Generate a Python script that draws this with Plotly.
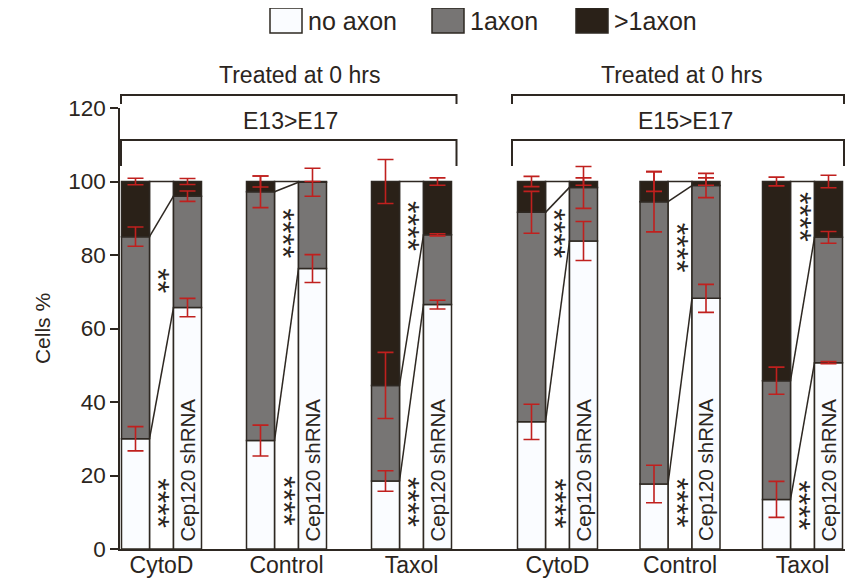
import plotly.graph_objects as go

# ---------------- data ----------------
groups = ["CytoD", "Control", "Taxol", "CytoD", "Control", "Taxol"]
sections = ["E13>E17", "E15>E17"]
section_title = "Treated at 0 hrs"
categories = ["no axon", "1axon", ">1axon"]

# control shRNA (left bars), % cells
ctrl_no = [30.0, 29.5, 18.5, 34.6, 17.7, 13.5]
ctrl_one = [55.0, 67.7, 26.0, 57.0, 76.8, 32.3]
ctrl_multi = [15.0, 2.8, 55.5, 8.4, 5.5, 54.2]
# Cep120 shRNA (right bars)
cep_no = [65.7, 76.3, 66.5, 83.8, 68.2, 50.7]
cep_one = [30.3, 23.5, 19.0, 14.6, 30.7, 34.1]
cep_multi = [4.0, 0.2, 14.5, 1.6, 1.1, 15.2]

# error (+/-)
ctrl_no_err = [3.3, 4.2, 2.8, 4.8, 5.1, 4.9]
ctrl_one_err = [2.6, 4.3, 9.0, 5.7, 8.2, 3.7]
ctrl_multi_err = [0.9, 1.5, 6.0, 1.4, 2.7, 1.2]
cep_no_err = [2.5, 3.8, 1.2, 5.3, 3.8, 0.3]
cep_one_err = [1.4, 3.8, 0.3, 5.7, 3.3, 1.6]
cep_multi_err = [0.8, 0.0, 1.0, 1.0, 1.0, 1.7]

# significance marks
sig_upper = ["**", "****", "****", "****", "****", "****"]
sig_lower = ["****", "****", "****", "****", "****", "****"]
sig_upper_y = [73, 86, 88, 86, 82, 90.5]
sig_lower_y = [12.6, 13.2, 12.9, 12.5, 12.6, 12.0]
bar_label = "Cep120 shRNA"

y_ticks = [0, 20, 40, 60, 80, 100, 120]

# ---------------- style / layout ----------------
PAGE_OFF = 8  # default body margin of the html page
W, H = 853 - PAGE_OFF, 579 - PAGE_OFF
ML, MR, MT, MB = 120 - PAGE_OFF, 0, 108 - PAGE_OFF, 30
XMAX = W - ML - MR
FONT = "Liberation Sans, Arial, Helvetica, sans-serif"
TXT = "#2b2520"
EDGE = "#2e2822"
C_WHITE = "#fafcff"
C_GRAY = "#777574"
C_BLACK = "#2a2118"
C_ERR = "#c0201e"
BAR_W = 28
MID_W = 24
section_start = [41.5, 437.5]
section_step = [125.0, 122.5]


def xp(pix):
    return (pix - 120) / XMAX


def yp(pix):
    return (549 - pix) / (H - MT - MB)


mid_x = []
for i in range(len(groups)):
    s = 0 if i < 3 else 1
    mid_x.append(section_start[s] + section_step[s] * (i % 3))
off = MID_W / 2 + BAR_W / 2
left_x = [m - off for m in mid_x]
right_x = [m + off for m in mid_x]

fig = go.Figure()

# middle blank columns
fig.add_trace(go.Bar(x=mid_x, y=[100] * len(mid_x), base=0, width=MID_W,
                     marker=dict(color="white", line=dict(color=EDGE, width=1.5)),
                     showlegend=False, hoverinfo="skip"))

xs = left_x + right_x
segs = [(ctrl_no + cep_no, C_WHITE), (ctrl_one + cep_one, C_GRAY), (ctrl_multi + cep_multi, C_BLACK)]
base = [0.0] * len(xs)
tops = []
for (vals, col), name in zip(segs, categories):
    fig.add_trace(go.Bar(x=xs, y=vals, base=base[:], width=BAR_W, name=name,
                         marker=dict(color=col, line=dict(color=EDGE, width=1.5)),
                         showlegend=False))
    base = [b + v for b, v in zip(base, vals)]
    tops.append(base[:])

# connecting lines between left and right bars
lx, ly = [], []
n = len(groups)
for k in range(2):
    for i in range(n):
        lx += [left_x[i] + BAR_W / 2, right_x[i] - BAR_W / 2, None]
        ly += [tops[k][i], tops[k][n + i], None]
fig.add_trace(go.Scatter(x=lx, y=ly, mode="lines", line=dict(color=EDGE, width=1.5),
                         showlegend=False, hoverinfo="skip"))

# error bars
errs = [ctrl_no_err + cep_no_err, ctrl_one_err + cep_one_err, ctrl_multi_err + cep_multi_err]
for k in range(3):
    fig.add_trace(go.Scatter(x=xs, y=tops[k], mode="markers",
                             marker=dict(size=1, color="rgba(0,0,0,0)"),
                             error_y=dict(type="data", array=errs[k], visible=True,
                                          color=C_ERR, thickness=1.6, width=8),
                             showlegend=False, hoverinfo="skip"))

annotations = []
shapes = []

# significance marks and bar labels
for i in range(n):
    for txt, yy in ((sig_upper[i], sig_upper_y[i]), (sig_lower[i], sig_lower_y[i])):
        annotations.append(dict(x=mid_x[i], y=yy, text=txt, textangle=90,
                                xanchor="center", yanchor="middle", xshift=-3,
                                showarrow=False, font=dict(family=FONT, size=32, color=TXT)))
    annotations.append(dict(x=right_x[i], y=1.5, text=bar_label, textangle=-90,
                            xanchor="center", yanchor="bottom",
                            showarrow=False, font=dict(family=FONT, size=20.5, color=TXT)))

# brackets
br_x = [(121, 456.5), (512, 844)]
title_cx = [300, 682]
sec_cx = [290, 685]
for s in range(2):
    x0, x1 = xp(br_x[s][0]), xp(br_x[s][1])
    shapes.append(dict(type="path", xref="paper", yref="paper",
                       path=f"M{x0},{yp(104)} L{x0},{yp(95)} L{x1},{yp(95)} L{x1},{yp(104)}",
                       line=dict(color=EDGE, width=2)))
    shapes.append(dict(type="path", xref="paper", yref="paper",
                       path=f"M{x0},{yp(166)} L{x0},{yp(140)} L{x1},{yp(140)} L{x1},{yp(166)}",
                       line=dict(color=EDGE, width=2)))
    annotations.append(dict(xref="paper", yref="paper", x=xp(title_cx[s]), y=yp(75),
                            xanchor="center", yanchor="middle",
                            text=section_title, showarrow=False,
                            font=dict(family=FONT, size=23, color=TXT)))
    annotations.append(dict(xref="paper", yref="paper", x=xp(sec_cx[s]), y=yp(121),
                            xanchor="center", yanchor="middle",
                            text=sections[s], showarrow=False,
                            font=dict(family=FONT, size=23, color=TXT)))

# legend (drawn)
leg_box_x = [270, 432, 576]
leg_cols = [C_WHITE, C_GRAY, C_BLACK]
for j in range(3):
    bx = leg_box_x[j]
    shapes.append(dict(type="rect", xref="paper", yref="paper",
                       x0=xp(bx), x1=xp(bx + 32), y0=yp(33), y1=yp(8),
                       fillcolor=leg_cols[j], line=dict(color=EDGE, width=1.5)))
    annotations.append(dict(xref="paper", yref="paper", x=xp(bx + 36), y=yp(20.5),
                            xanchor="left", yanchor="middle", text=categories[j], showarrow=False,
                            font=dict(family=FONT, size=25, color=TXT)))

fig.update_layout(
    width=W, height=H,
    margin=dict(l=ML, r=MR, t=MT, b=MB),
    paper_bgcolor="white", plot_bgcolor="white",
    barmode="overlay", showlegend=False,
    shapes=shapes, annotations=annotations,
    xaxis=dict(range=[0, XMAX], tickvals=mid_x, ticktext=groups, showgrid=False,
               zeroline=False, showline=True, linecolor=EDGE, linewidth=1.5,
               ticks="", ticklabelstandoff=-5,
               tickfont=dict(family=FONT, size=23, color=TXT)),
    yaxis=dict(range=[0, 120], tickvals=y_ticks, showgrid=False, zeroline=False,
               showline=True, linecolor=EDGE, linewidth=1.5, ticks="outside",
               ticklen=8, tickwidth=1.5, tickcolor=EDGE,
               tickfont=dict(family=FONT, size=22.5, color=TXT),
               title=dict(text="Cells %", font=dict(family=FONT, size=21, color=TXT),
                          standoff=12)),
)

fig.write_html("out.html")
